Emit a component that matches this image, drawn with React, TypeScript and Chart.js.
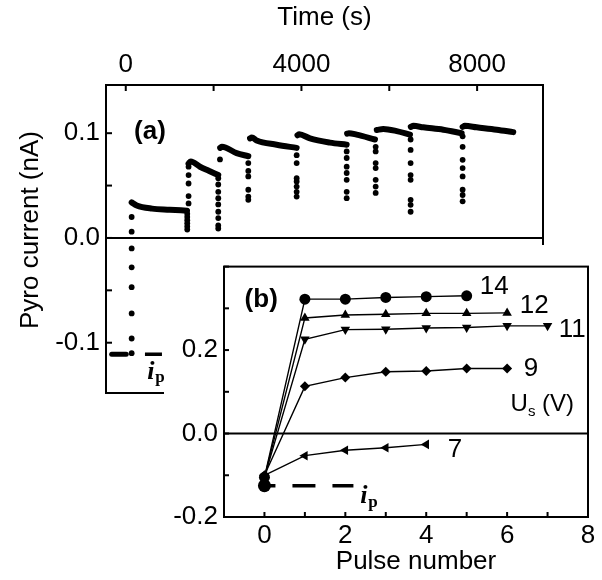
import React, { useEffect, useRef } from "react";
import { Chart, registerables } from "chart.js";
Chart.register(...registerables);

const FONT = "'Liberation Sans', Arial, Helvetica, sans-serif";
const SERIF = "'Liberation Serif', 'DejaVu Serif', serif";

// ---------- Panel (a): pyro current vs time ----------
const timeTicks = [0, 2000, 4000, 6000, 8000];
const timeLabels = [0, 4000, 8000];
const currentTicksA = [-0.1, -0.05, 0, 0.05, 0.1];
const currentLabelsA = [-0.1, 0, 0.1];

// slowly decaying plateaus (time in s, current in nA)
const plateauTimes = [
  [-320, 10],
  [134, 250, 600, 1000, 1395],
  [1430, 1480, 1690, 1900, 2106],
  [2150, 2190, 2524, 2790],
  [2830, 2870, 2980, 3436, 3891],
  [3910, 3950, 4194, 4649, 5030],
  [5040, 5080, 5257, 5674],
  [5715, 5863, 6168, 6471],
  [6490, 6550, 6774, 7230, 7648],
  [7670, 7720, 7989, 8445, 8823],
];
const plateauCurrents = [
  [-0.111, -0.111],
  [0.034, 0.031, 0.028, 0.027, 0.026],
  [0.071, 0.073, 0.068, 0.064, 0.06],
  [0.086, 0.087, 0.081, 0.078],
  [0.095, 0.096, 0.093, 0.089, 0.086],
  [0.098, 0.099, 0.095, 0.091, 0.089],
  [0.0995, 0.1, 0.0986, 0.094],
  [0.103, 0.104, 0.102, 0.0986],
  [0.106, 0.107, 0.1056, 0.1033, 0.1],
  [0.106, 0.107, 0.1056, 0.1033, 0.101],
];
// isolated points recorded during each pulse transient
const jumpTimes = [134, 1400, 1430, 2106, 2145, 2790, 3891, 5030, 5690, 6486, 7670];
const jumpCurrents = [
  [-0.11, -0.096, -0.072, -0.047, -0.028, -0.01, 0.006, 0.02],
  [0.023, 0.02, 0.017, 0.014, 0.011, 0.008],
  [0.033, 0.04, 0.052, 0.06, 0.068],
  [0.057, 0.051, 0.044, 0.038, 0.032, 0.025, 0.019, 0.012, 0.009],
  [0.075],
  [0.0715, 0.064, 0.0587, 0.046, 0.0395, 0.0364],
  [0.079, 0.0715, 0.057, 0.054, 0.049, 0.044, 0.0395],
  [0.0826, 0.0763, 0.068, 0.062, 0.0555, 0.044, 0.038],
  [0.087, 0.0826, 0.0715, 0.0667, 0.0555, 0.049, 0.043],
  [0.094, 0.084, 0.0715, 0.06, 0.0555, 0.0364, 0.0316, 0.025],
  [0.097, 0.087, 0.0746, 0.0667, 0.0587, 0.046, 0.041, 0.035],
];
const ipTimesA = [437, 824];
const ipCurrentA = -0.111;

// ---------- Panel (b): pyro current vs pulse number ----------
const pulseTicks = [-1, 0, 1, 2, 3, 4, 5, 6, 7, 8];
const pulseLabels = [0, 2, 4, 6, 8];
const currentTicksB = [-0.2, -0.1, 0, 0.1, 0.2, 0.3, 0.4];
const currentLabelsB = [-0.2, 0, 0.2];
const pulses = [0, 1, 2, 3, 4, 5, 6, 7];
const us14 = [-0.105, 0.322, 0.322, 0.326, 0.328, 0.33];
const us12 = [-0.105, 0.277, 0.284, 0.286, 0.288, 0.288, 0.289];
const us11 = [-0.105, 0.226, 0.249, 0.25, 0.253, 0.254, 0.258, 0.258];
const us9 = [-0.1, 0.113, 0.134, 0.148, 0.15, 0.156, 0.156];
const us7 = [-0.1, -0.053, -0.04, -0.034, -0.026];
const seriesNames = ["14", "12", "11", "9", "7"];
const ipPulses = [0, 2.2];
const ipCurrentB = -0.125;

const near = (v: number, arr: number[]) => arr.find((a) => Math.abs(a - v) < 1e-9);

function line(ctx: CanvasRenderingContext2D, x1: number, y1: number, x2: number, y2: number) {
  ctx.beginPath();
  ctx.moveTo(x1, y1);
  ctx.lineTo(x2, y2);
  ctx.stroke();
}

function drawIp(ctx: CanvasRenderingContext2D, x: number, y: number) {
  ctx.textAlign = "center";
  ctx.textBaseline = "middle";
  ctx.font = `bold italic 26px ${SERIF}`;
  ctx.fillText("i", x, y);
  ctx.font = `bold 17px ${SERIF}`;
  ctx.fillText("p", x + 9, y + 6);
}

const frameA = {
  id: "frameA",
  afterDraw(chart: any) {
    const { ctx, chartArea, scales } = chart;
    const { left, top, right, bottom } = chartArea;
    const x = scales.x;
    const y = scales.y;
    ctx.save();
    ctx.strokeStyle = "#000";
    ctx.fillStyle = "#000";
    ctx.lineWidth = 2;
    ctx.strokeRect(left, top, right - left, bottom - top);
    const y0 = y.getPixelForValue(0);
    line(ctx, left, y0, right, y0);
    timeTicks.forEach((t) => {
      const px = x.getPixelForValue(t);
      line(ctx, px, top, px, top + 6);
    });
    currentTicksA.forEach((v) => {
      const py = y.getPixelForValue(v);
      line(ctx, left, py, left + 6, py);
    });
    // tick labels of the top time scale
    ctx.font = `26px ${FONT}`;
    ctx.textAlign = "center";
    ctx.textBaseline = "middle";
    timeLabels.forEach((t) => {
      ctx.fillText(String(t), x.getPixelForValue(t), top - 20);
    });
    // y-axis title
    ctx.save();
    ctx.translate(31, (top + bottom) / 2 - 9);
    ctx.rotate(-Math.PI / 2);
    ctx.fillText("Pyro current (nA)", 0, 0);
    ctx.restore();
    ctx.font = `bold 26px ${FONT}`;
    ctx.fillText("(a)", x.getPixelForValue(551), y.getPixelForValue(0.101));
    drawIp(ctx, x.getPixelForValue(574), y.getPixelForValue(-0.128));
    ctx.restore();
  },
};

const frameB = {
  id: "frameB",
  beforeDraw(chart: any) {
    const { ctx, width, height } = chart;
    ctx.save();
    ctx.fillStyle = "#fff";
    ctx.fillRect(0, 0, width, height);
    ctx.restore();
  },
  afterDraw(chart: any) {
    const { ctx, chartArea, scales } = chart;
    const { left, top, right, bottom } = chartArea;
    const x = scales.x;
    const y = scales.y;
    ctx.save();
    ctx.strokeStyle = "#000";
    ctx.fillStyle = "#000";
    ctx.lineWidth = 2;
    ctx.strokeRect(left, top, right - left, bottom - top);
    const y0 = y.getPixelForValue(0);
    line(ctx, left, y0, right, y0);
    pulseTicks.forEach((p) => {
      const px = x.getPixelForValue(p);
      line(ctx, px, bottom, px, bottom - 5);
    });
    currentTicksB.forEach((v) => {
      const py = y.getPixelForValue(v);
      line(ctx, left, py, left + 5, py);
    });
    ctx.textAlign = "center";
    ctx.textBaseline = "middle";
    ctx.font = `bold 26px ${FONT}`;
    ctx.fillText("(b)", x.getPixelForValue(-0.08), y.getPixelForValue(0.32));
    ctx.font = `26px ${FONT}`;
    const labelPos = [
      [5.68, 0.351],
      [6.67, 0.307],
      [7.61, 0.249],
      [6.59, 0.155],
      [4.71, -0.038],
    ];
    seriesNames.forEach((s, i) => {
      ctx.fillText(s, x.getPixelForValue(labelPos[i][0]), y.getPixelForValue(labelPos[i][1]));
    });
    // U_s (V)
    const ux = x.getPixelForValue(6.87);
    const uy = y.getPixelForValue(0.069);
    ctx.textAlign = "left";
    ctx.font = `24px ${FONT}`;
    const wU = ctx.measureText("U").width;
    const wRest = ctx.measureText(" (V)").width;
    ctx.font = `15px ${FONT}`;
    const wS = ctx.measureText("s").width;
    let sx = ux - (wU + wS + wRest) / 2;
    ctx.font = `24px ${FONT}`;
    ctx.fillText("U", sx, uy);
    sx += wU;
    ctx.font = `15px ${FONT}`;
    ctx.fillText("s", sx, uy + 7);
    sx += wS;
    ctx.font = `24px ${FONT}`;
    ctx.fillText(" (V)", sx, uy);
    drawIp(ctx, x.getPixelForValue(2.46), y.getPixelForValue(-0.151));
    // axis title, placed as in the reference
    ctx.textAlign = "center";
    ctx.font = `26px ${FONT}`;
    ctx.fillText("Pulse number", (left + right) / 2 + 10, chart.height - 18);
    ctx.restore();
  },
};

function pts(xs: number[], ys: number[]) {
  return ys.map((v, i) => ({ x: xs[i], y: v }));
}

export default function App() {
  const refA = useRef<HTMLCanvasElement>(null);
  const refB = useRef<HTMLCanvasElement>(null);

  useEffect(() => {
    Chart.defaults.font.family = FONT;
    Chart.defaults.color = "#000";
    const tickFont = { size: 26, family: FONT };

    const plateauSets = plateauTimes.map((ts, i) => ({
      data: pts(ts, plateauCurrents[i]),
      showLine: true,
      borderColor: "#000",
      backgroundColor: "#000",
      borderWidth: i === 0 ? 5 : 6,
      borderCapStyle: "round",
      borderJoinStyle: "round",
      cubicInterpolationMode: "monotone",
      pointRadius: 0,
    }));
    const jumpPoints: { x: number; y: number }[] = [];
    jumpTimes.forEach((t, i) => jumpCurrents[i].forEach((v) => jumpPoints.push({ x: t, y: v })));

    const chartA = new Chart(refA.current!, {
      type: "scatter",
      data: {
        datasets: [
          ...plateauSets,
          {
            data: jumpPoints,
            pointRadius: 2.9,
            pointBackgroundColor: "#000",
            pointBorderWidth: 0,
            showLine: false,
          },
          {
            data: ipTimesA.map((t) => ({ x: t, y: ipCurrentA })),
            showLine: true,
            borderColor: "#000",
            borderWidth: 3.5,
            pointRadius: 0,
          },
        ] as any,
      },
      options: {
        responsive: false,
        animation: false,
        layout: { padding: { left: 0, top: 0, right: 59, bottom: 187 } },
        plugins: { legend: { display: false }, tooltip: { enabled: false } },
        scales: {
          x: {
            type: "linear",
            position: "top",
            min: -450,
            max: 9500,
            grid: { display: false, drawTicks: false },
            border: { display: false },
            ticks: { display: false },
            title: {
              display: true,
              text: "Time (s)",
              color: "#000",
              font: tickFont,
              padding: { top: 2, bottom: 0 },
            },
            afterFit: (s: any) => {
              s.height = 85;
            },
          },
          y: {
            type: "linear",
            position: "left",
            min: -0.148,
            max: 0.146,
            grid: { display: false, drawTicks: false },
            border: { display: false },
            ticks: {
              stepSize: 0.05,
              includeBounds: false,
              autoSkip: false,
              padding: 6,
              color: "#000",
              font: tickFont,
              callback: (v: any) => {
                const m = near(v, currentLabelsA);
                return m !== undefined ? m.toFixed(1) : null;
              },
            },
            afterFit: (s: any) => {
              s.width = 106;
            },
          },
        },
      } as any,
      plugins: [frameA],
    });

    const seriesB = [us14, us12, us11, us9, us7];
    const styles: any[] = [
      { pointStyle: "circle", pointRadius: 5.5, pointRotation: 0 },
      { pointStyle: "triangle", pointRadius: 5.5, pointRotation: 0 },
      { pointStyle: "triangle", pointRadius: 5.5, pointRotation: 180 },
      { pointStyle: "rectRot", pointRadius: 5, pointRotation: 0 },
      { pointStyle: "triangle", pointRadius: 5.5, pointRotation: -90 },
    ];
    const setsB = seriesB.map((s, i) => ({
      data: pts(pulses, s),
      showLine: true,
      borderColor: "#000",
      borderWidth: 1.4,
      pointBackgroundColor: "#000",
      pointBorderColor: "#000",
      pointBorderWidth: 0,
      ...styles[i],
    }));

    const chartB = new Chart(refB.current!, {
      type: "scatter",
      data: {
        datasets: [
          ...setsB,
          {
            data: ipPulses.map((p) => ({ x: p, y: ipCurrentB })),
            showLine: true,
            borderColor: "#000",
            borderWidth: 3.5,
            borderDash: [23, 17],
            borderDashOffset: 12,
            pointRadius: [6.5, 0],
            pointBackgroundColor: "#000",
            pointBorderWidth: 0,
          },
        ] as any,
      },
      options: {
        responsive: false,
        animation: false,
        layout: { padding: { left: 0, top: 13, right: 14, bottom: 0 } },
        plugins: { legend: { display: false }, tooltip: { enabled: false } },
        scales: {
          x: {
            type: "linear",
            position: "bottom",
            min: -1,
            max: 8,
            grid: { display: false, drawTicks: false },
            border: { display: false },
            ticks: {
              stepSize: 1,
              autoSkip: false,
              maxRotation: 0,
              padding: 3,
              color: "#000",
              font: tickFont,
              callback: (v: any) => (near(v, pulseLabels) !== undefined ? String(v) : null),
            },
            afterFit: (s: any) => {
              s.height = 63;
            },
          },
          y: {
            type: "linear",
            position: "left",
            min: -0.2,
            max: 0.4,
            grid: { display: false, drawTicks: false },
            border: { display: false },
            ticks: {
              stepSize: 0.1,
              autoSkip: false,
              padding: 6,
              color: "#000",
              font: tickFont,
              callback: (v: any) => {
                const m = near(v, currentLabelsB);
                return m !== undefined ? m.toFixed(1) : null;
              },
            },
            afterFit: (s: any) => {
              s.width = 60;
            },
          },
        },
      } as any,
      plugins: [frameB],
    });

    return () => {
      chartA.destroy();
      chartB.destroy();
    };
  }, []);

  return (
    <div style={{ position: "absolute", left: 0, top: 0, width: 602, height: 580, background: "#fff" }}>
      <canvas
        ref={refA}
        width={602}
        height={580}
        style={{ position: "absolute", left: 0, top: 0, width: 602, height: 580 }}
      />
      <canvas
        ref={refB}
        width={438}
        height={335}
        style={{ position: "absolute", left: 164, top: 245, width: 438, height: 335 }}
      />
    </div>
  );
}
